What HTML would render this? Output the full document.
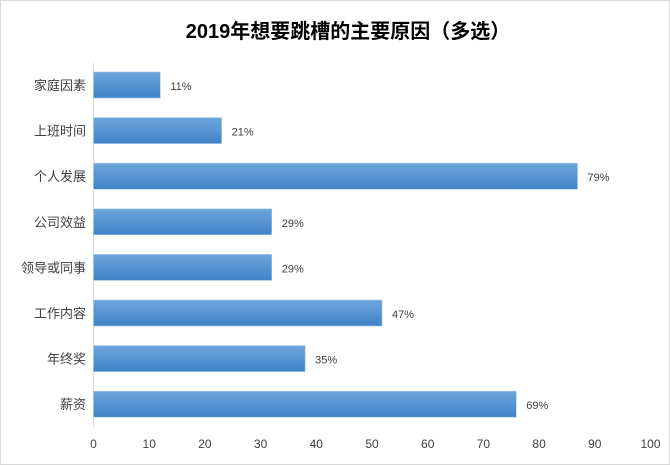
<!DOCTYPE html>
<html><head><meta charset="utf-8"><style>
body{margin:0;background:#fff;}
svg{display:block;font-family:"Liberation Sans","Noto Sans CJK SC",sans-serif;}
</style></head><body>
<svg width="670" height="465">
<defs><linearGradient id="g" x1="0" y1="0" x2="0" y2="1"><stop offset="0" stop-color="#6ea6dc"/><stop offset="1" stop-color="#3f82c8"/></linearGradient></defs>
<rect x="0.5" y="0.5" width="669" height="464" fill="#fff" stroke="#d9d9d9"/>
<text x="348" y="38" text-anchor="middle" font-size="20" font-weight="bold" fill="#000">2019年想要跳槽的主要原因（多选）</text>
<line x1="93.5" y1="63" x2="93.5" y2="427" stroke="#d9d9d9"/>
<g id="bars"></g>
<g id="ticks"></g>
</svg>
<script>
const categories=["家庭因素","上班时间","个人发展","公司效益","领导或同事","工作内容","年终奖","薪资"];
const values=[12,23,86.9,32,32,51.8,38,75.9];
const labels=["11%","21%","79%","29%","29%","47%","35%","69%"];
const ticks=[0,10,20,30,40,50,60,70,80,90,100];
const ns="http://www.w3.org/2000/svg";
const x=v=>93.5+v*5.57;
const y=i=>85+i*45.6;
const bars=document.getElementById('bars'),tg=document.getElementById('ticks');
function mk(t,a){const e=document.createElementNS(ns,t);for(const k in a)e.setAttribute(k,a[k]);return e;}
categories.forEach((c,i)=>{
 const r=mk('rect',{x:x(0),y:y(i)-13,width:x(values[i])-x(0),height:26,fill:'url(#g)',stroke:'#a9c8ea','stroke-width':0.6});
 
 
 bars.appendChild(r);
 const l=mk('text',{x:86,y:y(i)+5,'text-anchor':'end','font-size':13,fill:'#404040'});l.textContent=c;
 
 
 bars.appendChild(l);
 const v=mk('text',{x:x(values[i])+10,y:y(i)+5,'font-size':11,fill:'#404040'});v.textContent=labels[i];
 
 
 bars.appendChild(v);
});
ticks.forEach(t=>{
 const e=mk('text',{x:x(t),y:448,'text-anchor':'middle','font-size':12,fill:'#404040'});e.textContent=t;
 
 
 tg.appendChild(e);
});
</script>
</body></html>
